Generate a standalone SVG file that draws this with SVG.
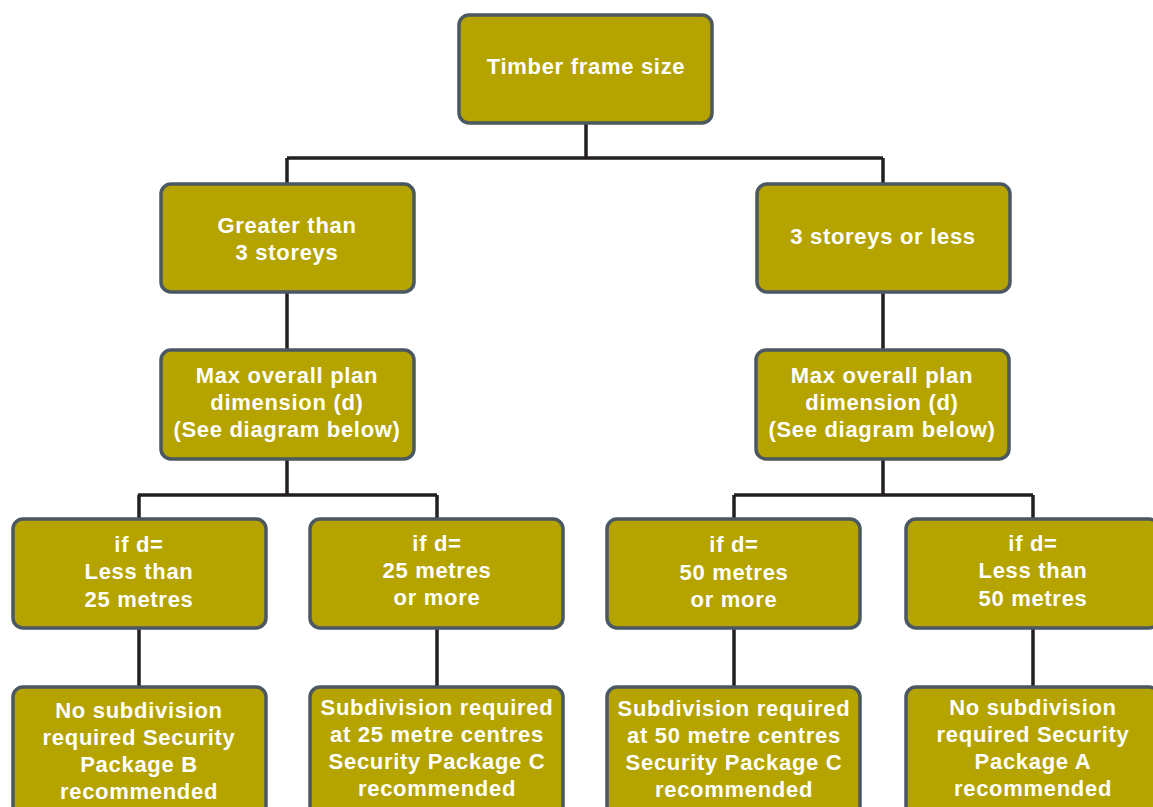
<svg xmlns="http://www.w3.org/2000/svg" width="1153" height="807" viewBox="0 0 1153 807">
<style>
.box{fill:#b5a300;stroke:#4b5862;stroke-width:3.5}
.t{fill:#ffffff;font-family:"Liberation Sans",Arial,sans-serif;font-weight:bold;font-size:22px;letter-spacing:0.7px;text-anchor:middle}
.c{fill:none;stroke:#231f20;stroke-width:3.5}
</style>
<rect width="1153" height="807" fill="#ffffff"/>
<g id="connectors">
<path class="c" d="M586 123V158M287 158H883M287 158V184M883 158V184"/>
<path class="c" d="M287 292V350M883 292V350"/>
<path class="c" d="M287 459V495M138 495H437M139 495V519M437 495V519"/>
<path class="c" d="M883 459V495M734 495H1033M734 495V519M1033 495V519"/>
<path class="c" d="M139 628V687M437 628V687M734 628V687M1033 628V687"/>
</g>
<g id="n-top"><rect class="box" x="459" y="15" width="253" height="108" rx="10"/><text class="t" x="586" y="74">Timber frame size</text></g>
<g id="n-gt3"><rect class="box" x="161" y="184" width="253" height="108" rx="10"/><text class="t" x="287" y="233">Greater than</text><text class="t" x="287" y="260">3 storeys</text></g>
<g id="n-le3"><rect class="box" x="757" y="184" width="253" height="108" rx="10"/><text class="t" x="883" y="244">3 storeys or less</text></g>
<g id="n-maxl"><rect class="box" x="161" y="350" width="253" height="109" rx="10"/><text class="t" x="287" y="383">Max overall plan</text><text class="t" x="287" y="410">dimension (d)</text><text class="t" x="287" y="437">(See diagram below)</text></g>
<g id="n-maxr"><rect class="box" x="756" y="350" width="253" height="109" rx="10"/><text class="t" x="882" y="383">Max overall plan</text><text class="t" x="882" y="410">dimension (d)</text><text class="t" x="882" y="437">(See diagram below)</text></g>
<g id="n-lt25"><rect class="box" x="13" y="519" width="253" height="109" rx="10"/><text class="t" x="139" y="552">if d=</text><text class="t" x="139" y="579">Less than</text><text class="t" x="139" y="607">25 metres</text></g>
<g id="n-ge25"><rect class="box" x="310" y="519" width="253" height="109" rx="10"/><text class="t" x="437" y="551">if d=</text><text class="t" x="437" y="578">25 metres</text><text class="t" x="437" y="605">or more</text></g>
<g id="n-ge50"><rect class="box" x="607" y="519" width="253" height="109" rx="10"/><text class="t" x="734" y="552">if d=</text><text class="t" x="734" y="580">50 metres</text><text class="t" x="734" y="607">or more</text></g>
<g id="n-lt50"><rect class="box" x="906" y="519" width="253" height="109" rx="10"/><text class="t" x="1033" y="551">if d=</text><text class="t" x="1033" y="578">Less than</text><text class="t" x="1033" y="606">50 metres</text></g>
<g id="n-pkgB"><rect class="box" x="13" y="687" width="253" height="130" rx="10"/><text class="t" x="139" y="718">No subdivision</text><text class="t" x="139" y="745">required Security</text><text class="t" x="139" y="772">Package B</text><text class="t" x="139" y="799">recommended</text></g>
<g id="n-pkgC25"><rect class="box" x="310" y="687" width="253" height="130" rx="10"/><text class="t" x="437" y="715">Subdivision required</text><text class="t" x="437" y="742">at 25 metre centres</text><text class="t" x="437" y="769">Security Package C</text><text class="t" x="437" y="796">recommended</text></g>
<g id="n-pkgC50"><rect class="box" x="607" y="687" width="253" height="130" rx="10"/><text class="t" x="734" y="716">Subdivision required</text><text class="t" x="734" y="743">at 50 metre centres</text><text class="t" x="734" y="770">Security Package C</text><text class="t" x="734" y="797">recommended</text></g>
<g id="n-pkgA"><rect class="box" x="906" y="687" width="253" height="130" rx="10"/><text class="t" x="1033" y="715">No subdivision</text><text class="t" x="1033" y="742">required Security</text><text class="t" x="1033" y="769">Package A</text><text class="t" x="1033" y="796">recommended</text></g>
</svg>
